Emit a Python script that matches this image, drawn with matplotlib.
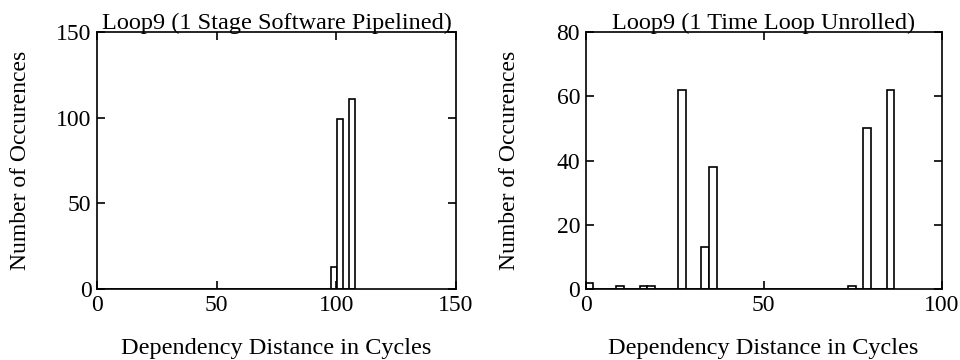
import matplotlib
matplotlib.use("Agg")
import matplotlib.pyplot as plt
import numpy as np

# 左图：1 Stage Software Pipelined（43个区间，宽约2.51）
left_bin_width = 2.51
left_counts = [0, 0, 0, 0, 0, 0, 0, 0, 0, 0,
               0, 0, 0, 0, 0, 0, 0, 0, 0, 0,
               0, 0, 0, 0, 0, 0, 0, 0, 0, 0,
               0, 0, 0, 0, 0, 0, 0, 0, 0, 13,
               99, 0, 111]

# 右图：1 Time Loop Unrolled（40个区间，宽约2.167）
right_bin_width = 2.167
right_counts = [2, 0, 0, 0, 1, 0, 0, 1, 1, 0,
                0, 0, 62, 0, 0, 13, 38, 0, 0, 0,
                0, 0, 0, 0, 0, 0, 0, 0, 0, 0,
                0, 0, 0, 0, 1, 0, 50, 0, 0, 62]

titles = ["Loop9 (1 Stage Software Pipelined)", "Loop9 (1 Time Loop Unrolled)"]
xlims = [150, 100]
ylims = [150, 80]
xticks = [[0, 50, 100, 150], [0, 50, 100]]
yticks = [[0, 50, 100, 150], [0, 20, 40, 60, 80]]

plt.rcParams['font.family'] = ['Liberation Serif', 'DejaVu Serif']

fig = plt.figure(figsize=(9.6, 3.6), dpi=100)
ax1 = fig.add_axes([0.101, 0.197, 0.374, 0.714])
ax2 = fig.add_axes([0.610, 0.197, 0.371, 0.714])

for ax, counts, w, title, xl, yl, xt, yt in zip(
        [ax1, ax2], [left_counts, right_counts], [left_bin_width, right_bin_width],
        titles, xlims, ylims, xticks, yticks):
    edges = np.arange(len(counts)) * w
    ax.bar(edges, counts, width=w, align='edge', facecolor='white',
           edgecolor='black', linewidth=1.2)
    ax.set_xlim(0, xl)
    ax.set_ylim(0, yl)
    ax.set_xticks(xt)
    ax.set_yticks(yt)
    ax.tick_params(direction='in', top=True, right=True, length=6,
                   width=1.2, labelsize=17, pad=4)
    for s in ax.spines.values():
        s.set_linewidth(1.2)
    ax.set_title(title, fontsize=17.5, pad=2)
    ax.set_xlabel("Dependency Distance in Cycles", fontsize=17.5, labelpad=16)
    ax.set_ylabel("Number of Occurences", fontsize=17)
    ax.yaxis.set_label_coords(-0.185, 0.5)

fig.savefig("out.png", dpi=100)
